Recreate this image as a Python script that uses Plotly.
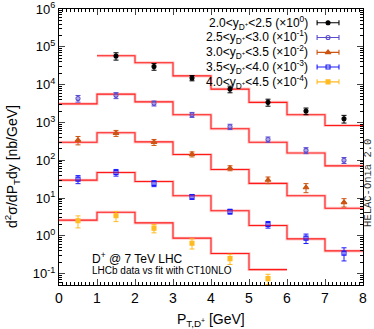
import plotly.graph_objects as go

# ---------------- data ----------------
bin_edges = [0, 1, 2, 3, 4, 5, 6, 7, 8]
x_centers = [0.5, 1.5, 2.5, 3.5, 4.5, 5.5, 6.5, 7.5]

# 2.0<y<2.5 (x10^0): data from pT bin 1-2 onward
s1_x = [1.5, 2.5, 3.5, 4.5, 5.5, 6.5, 7.5]
s1_pts = [5.7e4, 3.0e4, 1.5e4, 7.6e3, 3.4e3, 2.0e3, 1.25e3]
s1_err = [0.22, 0.20, 0.16, 0.20, 0.21, 0.20, 0.23]
s1_edges = [1, 2, 3, 4, 5, 6, 7, 8]
s1_fit = [5.8e4, 3.8e4, 1.7e4, 7.6e3, 3.4e3, 1.6e3, 830]

# 2.5<y<3.0 (x10^-1)
s2_x = x_centers
s2_pts = [4.3e3, 5.2e3, 3.2e3, 1.6e3, 770, 355, 182, 100]
s2_err = [0.20, 0.18, 0.15, 0.15, 0.16, 0.16, 0.18, 0.18]
s2_edges = bin_edges
s2_fit = [3.1e3, 5.6e3, 3.5e3, 1.6e3, 680, 300, 155, 71]

# 3.0<y<3.5 (x10^-2)
s3_x = x_centers
s3_pts = [340, 520, 300, 144, 62, 30, 19, 7.7]
s3_err = [0.25, 0.18, 0.18, 0.15, 0.15, 0.20, 0.27, 0.25]
s3_edges = bin_edges
s3_fit = [300, 535, 305, 142, 57, 24.4, 11.5, 5.35]

# 3.5<y<4.0 (x10^-3)
s4_x = x_centers
s4_pts = [31.6, 47.5, 24.4, 10.8, 4.4, 2.0, 0.87, 0.35]
s4_err = [0.24, 0.20, 0.18, 0.15, 0.15, 0.20, 0.28, 0.38]
s4_edges = bin_edges
s4_fit = [29.7, 47.5, 27.5, 11.5, 4.6, 1.87, 0.83, 0.40]

# 4.0<y<4.5 (x10^-4)
s5_x = [0.5, 1.5, 2.5, 3.5, 4.5, 5.5]
s5_pts = [2.5, 3.4, 1.6, 0.64, 0.25, 0.074]
s5_err = [0.35, 0.30, 0.25, 0.30, 0.30, 0.30]
s5_edges = [0, 1, 2, 3, 4, 5, 6]
s5_fit = [2.6, 4.2, 2.2, 0.87, 0.34, 0.128]

legend_labels = [
    "2.0&lt;y<sub>D<sup>+</sup></sub>&lt;2.5 (×10<sup>0</sup>)",
    "2.5&lt;y<sub>D<sup>+</sup></sub>&lt;3.0 (×10<sup>-1</sup>)",
    "3.0&lt;y<sub>D<sup>+</sup></sub>&lt;3.5 (×10<sup>-2</sup>)",
    "3.5&lt;y<sub>D<sup>+</sup></sub>&lt;4.0 (×10<sup>-3</sup>)",
    "4.0&lt;y<sub>D<sup>+</sup></sub>&lt;4.5 (×10<sup>-4</sup>)",
]
y_tick_vals = [0.1, 1, 10, 100, 1e3, 1e4, 1e5, 1e6]
y_tick_text = ["10<sup>-1</sup>", "10<sup>0</sup>", "10<sup>1</sup>", "10<sup>2</sup>",
               "10<sup>3</sup>", "10<sup>4</sup>", "10<sup>5</sup>", "10<sup>6</sup>"]

colors = ["#000000", "#5a4ccf", "#cc5512", "#1a1aff", "#ffbb22"]
symbols = ["circle", "circle-open", "triangle-up", "square-open", "square"]
msizes = [4, 4, 5, 4, 4]

series = [
    (s1_x, s1_pts, s1_err, s1_edges, s1_fit),
    (s2_x, s2_pts, s2_err, s2_edges, s2_fit),
    (s3_x, s3_pts, s3_err, s3_edges, s3_fit),
    (s4_x, s4_pts, s4_err, s4_edges, s4_fit),
    (s5_x, s5_pts, s5_err, s5_edges, s5_fit),
]

FONT = "Liberation Sans, Arial, Helvetica, sans-serif"

fig = go.Figure()

# fit histograms
for (_, _, _, edges, fit) in series:
    yy = list(fit) + [fit[-1]]
    fig.add_trace(go.Scatter(x=edges, y=yy, mode="lines", line_shape="hv",
                             line=dict(color="rgba(255,110,110,0.35)", width=3),
                             showlegend=False, hoverinfo="skip"))
    fig.add_trace(go.Scatter(x=edges, y=yy, mode="lines", line_shape="hv",
                             line=dict(color="#ff1a1a", width=1.1),
                             showlegend=False, hoverinfo="skip"))

# data points
for i, (xs, pts, err, _, _) in enumerate(series):
    fig.add_trace(go.Scatter(
        x=xs, y=pts, mode="markers",
        marker=dict(symbol=symbols[i], size=msizes[i], color=colors[i],
                    line=dict(color=colors[i], width=1.1)),
        error_y=dict(type="data", symmetric=True,
                     array=[p * e for p, e in zip(pts, err)],
                     color=colors[i], thickness=1, width=2.5),
        showlegend=False))

# custom legend samples (symbol to the right of text) on an overlay axis
row_y = [0.950, 0.897, 0.843, 0.790, 0.736]
for i in range(5):
    fig.add_trace(go.Scatter(
        x=[0.885], y=[row_y[i]], mode="markers", xaxis="x2", yaxis="y2",
        marker=dict(symbol=symbols[i], size=msizes[i], color=colors[i],
                    line=dict(color=colors[i], width=1.1)),
        error_x=dict(type="constant", value=0.036, color=colors[i], thickness=1.1, width=2.5),
        showlegend=False, hoverinfo="skip"))

annotations = []
for i in range(5):
    annotations.append(dict(x=0.826, y=row_y[i], xref="paper", yref="paper",
                            text=legend_labels[i], showarrow=False,
                            xanchor="right", yanchor="middle",
                            font=dict(size=12, color="black", family=FONT)))
annotations += [
    dict(x=0.102, y=0.098, xref="paper", yref="paper", text="D<sup>+</sup> @ 7 TeV LHC",
         showarrow=False, xanchor="left", yanchor="middle",
         font=dict(size=12, color="black", family=FONT)),
    dict(x=0.102, y=0.051, xref="paper", yref="paper", text="LHCb data vs fit with CT10NLO",
         showarrow=False, xanchor="left", yanchor="middle",
         font=dict(size=10, color="black", family=FONT)),
    dict(x=-0.155, y=0.431, xref="paper", yref="paper",
         text="d<sup>2</sup>σ/dP<sub>T</sub>dy [nb/GeV]", textangle=-90,
         showarrow=False, xanchor="center", yanchor="middle",
         font=dict(size=14, color="black", family=FONT)),
    dict(x=0.5, y=-0.127, xref="paper", yref="paper",
         text="P<sub>T,D<sup>+</sup></sub> [GeV]",
         showarrow=False, xanchor="center", yanchor="middle",
         font=dict(size=14, color="black", family=FONT)),
    dict(x=1.0165, y=0.37, xref="paper", yref="paper", text="HELAC-Onia 2.0", textangle=-90,
         showarrow=False, xanchor="center", yanchor="middle",
         font=dict(size=10.5, color="#333333", family="Liberation Mono, DejaVu Sans Mono, monospace")),
]

minor_y = [m * 10 ** d for d in range(-2, 6) for m in range(2, 10)]

fig.update_layout(
    width=374, height=329,
    margin=dict(l=59, r=11, t=9, b=44),
    paper_bgcolor="white", plot_bgcolor="white",
    font=dict(family=FONT, color="black"),
    showlegend=False,
    annotations=annotations,
    xaxis=dict(range=[0, 8], dtick=1, ticks="inside", ticklen=6, tickwidth=1,
               showline=True, linecolor="black", linewidth=1, mirror="ticks",
               showgrid=False, zeroline=False, automargin=False,
               minor=dict(ticks="inside", ticklen=3, dtick=0.1, tickcolor="black", showgrid=False),
               tickfont=dict(size=14, family=FONT)),
    yaxis=dict(type="log", range=[-1.3, 6], tickmode="array", tickvals=y_tick_vals,
               ticktext=y_tick_text, ticks="inside", ticklen=6, tickwidth=1,
               showline=True, linecolor="black", linewidth=1, mirror="ticks",
               showgrid=False, zeroline=False, automargin=False,
               minor=dict(ticks="inside", ticklen=3, tickmode="array", tickvals=minor_y,
                          tickcolor="black", showgrid=False),
               tickfont=dict(size=13, family=FONT)),
    xaxis2=dict(overlaying="x", range=[0, 1], visible=False, automargin=False),
    yaxis2=dict(overlaying="y", range=[0, 1], visible=False, automargin=False),
)

fig.write_html("out.html", config={"displayModeBar": False},
               post_script="document.body.style.margin='0';document.body.style.padding='0';"
                           "document.body.style.overflow='hidden';")
